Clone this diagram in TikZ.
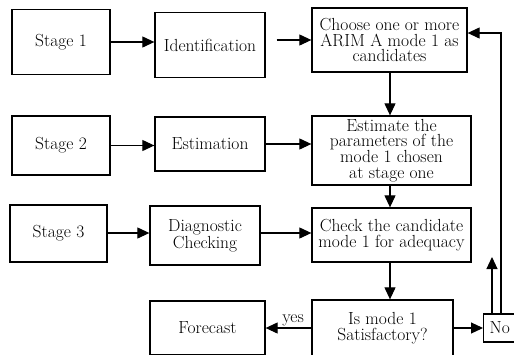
\documentclass[tikz,border=0pt]{standalone}
\usepackage{tikz}
\usetikzlibrary{arrows.meta}
\tikzstyle{stagebox} = [rectangle, line width=1.3pt, draw=black, align=center, inner sep=2pt, font=\fontsize{17.5}{15.8}\selectfont]
\tikzstyle{arrow} = [line width=1.1pt, -{Triangle[length=12pt,width=11pt]}]

\begin{document}
\begin{tikzpicture}[x=1pt, y=-1pt]
\useasboundingbox (0,0) rectangle (514,354);
\clip (0,0) rectangle (514,354);

\node (stage1) [stagebox, minimum width=98pt, minimum height=65pt] at (61,42) {Stage 1};
\node (ident) [stagebox, minimum width=110pt, minimum height=65pt] at (210,45) {Identification};
\node (choose) [stagebox, minimum width=155pt, minimum height=64pt] at (389.5,40) {Choose one or more\\ARIM A mode 1 as\\candidates};

\node (stage2) [stagebox, minimum width=98pt, minimum height=59pt] at (61,145.5) {Stage 2};
\node (estim) [stagebox, minimum width=110pt, minimum height=54pt] at (210,144) {Estimation};
\node (estimate) [stagebox, minimum width=159pt, minimum height=69pt] at (391.5,150.5) {Estimate the\\parameters of the\\mode 1 chosen\\at stage one};

\node (stage3) [stagebox, minimum width=97pt, minimum height=57pt] at (58.5,233.5) {Stage 3};
\node (diag) [stagebox, minimum width=110pt, minimum height=59pt] at (205,235.5) {Diagnostic\\Checking};
\node (check) [stagebox, minimum width=159pt, minimum height=54pt] at (391.5,235) {Check the candidate\\mode 1 for adequacy};

\node (forecast) [stagebox, minimum width=115pt, minimum height=54pt] at (207.5,328) {Forecast};
\node (ismode) [stagebox, minimum width=141pt, minimum height=56pt] at (382.5,328) {Is mode 1\\Satisfactory?};
\node (no) [stagebox, anchor=west, minimum height=28pt, inner xsep=6pt] at (483,328) {No};

\coordinate (loop) at (501,33);
\coordinate (up) at (492,257);

\draw [arrow] (stage1) -- (stage1 -| ident.west);
\draw [arrow, shorten <=11pt] (ident.east |- choose) -- (choose);
\draw [arrow] (stage2) -- (stage2 -| estim.west);
\draw [arrow] (estim) -- (estim -| estimate.west);
\draw [arrow] (stage3.east |- 0,233) -- (diag.west |- 0,233);
\draw [arrow] (diag.east |- 0,233) -- (check.west |- 0,233);

\draw [arrow] (choose.south -| 390,0) -- (estimate.north -| 390,0);
\draw [arrow] (estimate.south -| 390,0) -- (check.north -| 390,0);
\draw [arrow] (check.south -| 390,0) -- (ismode.north -| 390,0);

\draw [arrow] (ismode) -- node[above, pos=0.4, font=\fontsize{17.5}{17}\selectfont, inner sep=1pt] {yes} (forecast);
\draw [arrow] (ismode) -- (no);
\draw [arrow] (up |- no.north) -- (up);
\draw [arrow] (loop |- no.north) -- (loop) -- (loop -| choose.east);

\end{tikzpicture}
\end{document}
